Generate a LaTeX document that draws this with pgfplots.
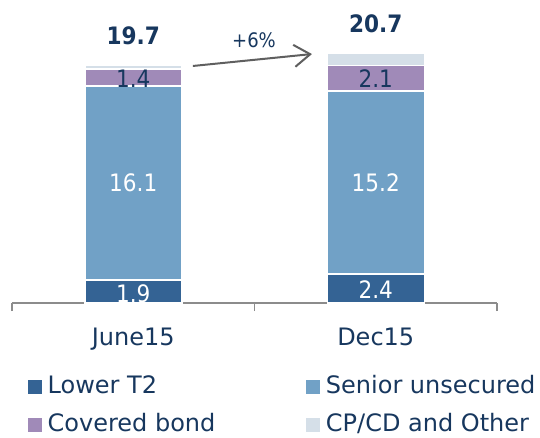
\documentclass[border=0pt]{standalone}
\usepackage{pgfplots}
\pgfplotsset{compat=1.18}
\usepackage{pgfplotstable}
\usepackage{fontspec}
\setmainfont{DejaVu Sans}
\newfontfamily\condfont{DejaVu Sans Condensed}
\usetikzlibrary{arrows.meta}
\definecolor{navy}{HTML}{17375E}
\definecolor{cLT}{HTML}{346394}
\definecolor{cSen}{HTML}{71A1C6}
\definecolor{cCov}{HTML}{A08AB8}
\definecolor{cCP}{HTML}{D5DFE8}
\definecolor{axgray}{HTML}{8C8C8C}
\definecolor{arrgray}{HTML}{5F5F5F}

\pgfplotstableread{
x lt2 sen cov cp tot
0 1.9 16.1 1.4 0.3 19.7
1 2.4 15.2 2.1 1.0 20.7
}\data

\begin{document}
\begin{tikzpicture}
\path[use as bounding box] (-12pt,-135pt) rectangle (528pt,303pt);
\begin{axis}[
  at={(0,0)}, anchor=south west,
  scale only axis, width=485pt, height=301.25pt,
  xmin=-0.5, xmax=1.5, ymin=0, ymax=25,
  ybar stacked, bar width=97pt,
  axis x line=bottom, axis y line=none,
  x axis line style={-, draw=axgray, line width=1.5pt},
  xtick={0,1}, xticklabels={June15,Dec15},
  major tick length=0pt,
  minor xtick={-0.5,0.5,1.5},
  minor tick length=8pt, tick align=outside,
  tick style={draw=axgray, line width=1.5pt},
  xticklabel style={font=\fontsize{24}{28}\selectfont, text=navy, anchor=base, yshift=-42pt},
  clip=false,
  legend columns=2,
  legend cell align=left,
  legend style={at={(axis description cs:0.033,-0.24)}, anchor=north west,
    draw=none, fill=none, inner sep=0pt,
    font=\fontsize{24}{28}\selectfont, text=navy,
    nodes={inner sep=0pt, text height=18pt, text depth=5pt},
    row sep=15pt,
    /tikz/every odd column/.append style={column sep=6pt},
    /tikz/every even column/.append style={column sep=91pt}},
]
\addplot[fill=cLT, draw=white, line width=1.5pt, legend image code/.code={\fill[cLT] (0pt,-6pt) rectangle (12pt,6pt);}] table[x=x, y=lt2] {\data};
\addlegendentry{Lower T2}
\addplot[fill=cSen, draw=white, line width=1.5pt, legend image code/.code={\fill[cSen] (0pt,-6pt) rectangle (12pt,6pt);}] table[x=x, y=sen] {\data};
\addlegendentry{Senior unsecured}
\addplot[fill=cCov, draw=white, line width=1.5pt, legend image code/.code={\fill[cCov] (0pt,-6pt) rectangle (12pt,6pt);}] table[x=x, y=cov] {\data};
\addlegendentry{Covered bond}
\addplot[fill=cCP, draw=white, line width=1.5pt, legend image code/.code={\fill[cCP] (0pt,-6pt) rectangle (12pt,6pt);}] table[x=x, y=cp] {\data};
\addlegendentry{CP/CD and Other}

\coordinate (a1) at (axis cs:0,0.8);
\coordinate (a2) at (axis cs:0,9.95);
\coordinate (a3) at (axis cs:0,18.65);
\coordinate (b1) at (axis cs:1,1.1);
\coordinate (b2) at (axis cs:1,10.0);
\coordinate (b3) at (axis cs:1,18.65);
\coordinate (ta) at (axis cs:0,19.7);
\coordinate (tb) at (axis cs:1,20.7);
\coordinate (arS) at (axis cs:0.246,19.67);
\coordinate (arE) at (axis cs:0.737,20.66);
\coordinate (pc) at (axis cs:0.498,21.8);
\end{axis}
\begin{scope}[font=\condfont\fontsize{24}{28}\selectfont]
\node[text=white] at (a1) {1.9};
\node[text=white] at (a2) {16.1};
\node[text=navy] at (a3) {1.4};
\node[text=white] at (b1) {2.4};
\node[text=white] at (b2) {15.2};
\node[text=navy] at (b3) {2.1};
\end{scope}
\node[anchor=base, text=navy, font=\condfont\bfseries\fontsize{24}{28}\selectfont, yshift=21pt] at (ta) {19.7};
\node[anchor=base, text=navy, font=\condfont\bfseries\fontsize{24}{28}\selectfont, yshift=21pt] at (tb) {20.7};
\draw[arrgray, line width=2pt, -{Straight Barb[length=16pt,width=22pt]}] (arS) -- (arE);
\node[text=navy, font=\condfont\fontsize{20}{24}\selectfont] at (pc) {+6\%};
\end{tikzpicture}
\end{document}
